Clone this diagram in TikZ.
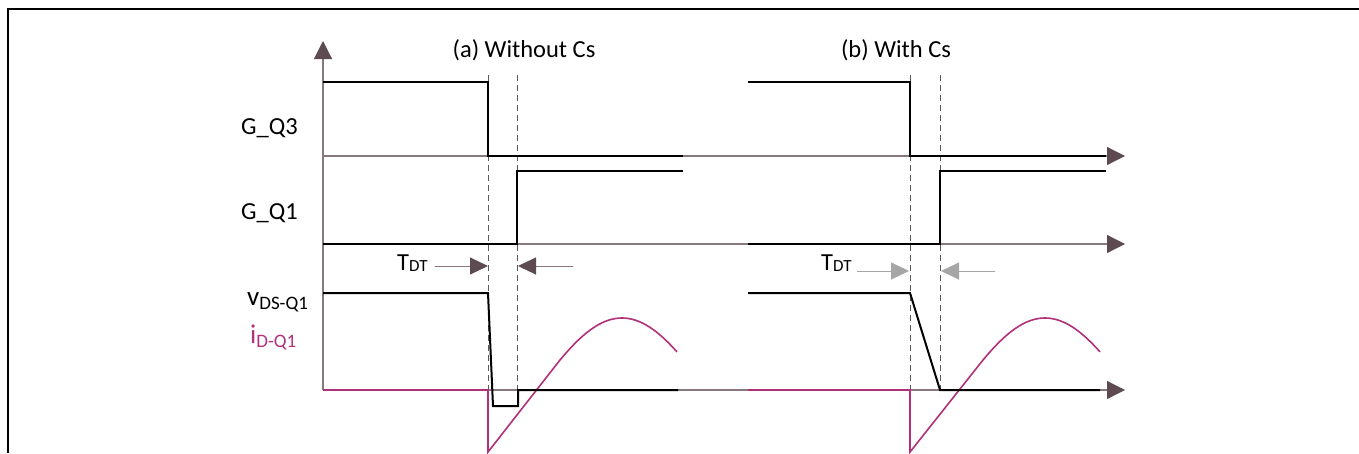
\documentclass[tikz,border=0pt]{standalone}
\usepackage{fontspec}
\setmainfont{Carlito}
\usetikzlibrary{arrows.meta}
\definecolor{axisc}{HTML}{8A7880}
\definecolor{tipc}{HTML}{5E4B52}
\definecolor{berry}{HTML}{B0307A}
\definecolor{lgrey}{HTML}{A6A6A6}
\definecolor{dashc}{HTML}{5A5A5A}
\tikzset{
  axisline/.style={draw=axisc, line width=1.2pt, -{Triangle[length=18pt,width=18pt,color=tipc]}},
  sig/.style={draw=black, line width=2pt, line join=miter},
  cur/.style={draw=berry, line width=1.6pt},
  guide/.style={draw=dashc, line width=0.8pt, dash pattern=on 6pt off 4pt},
  tdtdark/.style={draw=axisc, line width=1pt, -{Triangle[length=18pt,width=17pt,color=tipc]}},
  tdtlight/.style={draw=lgrey, line width=1pt, -{Triangle[length=18pt,width=17pt,color=lgrey]}},
  lbl/.style={inner sep=0pt, font=\fontsize{24.5}{28}\selectfont},
}
\newcommand{\subsz}{\fontsize{19}{20}\selectfont}
\begin{document}
\begin{tikzpicture}[x=1pt,y=-1pt]
\useasboundingbox (0,0) rectangle (1359,453);
% frame
\draw[line width=2.5pt] (8,453) -- (8,9) -- (1359,9);
% axes
\coordinate (o) at (323,390);
\coordinate (ytop) at (323,41);
\draw[axisline] (o) -- (ytop);
\coordinate (a3s) at (323,156); \coordinate (a3e) at (1125,156);
\coordinate (a1s) at (323,244); \coordinate (a1e) at (1125,244);
\coordinate (avs) at (323,390); \coordinate (ave) at (1125,390);
\draw[axisline] (a3s) -- (a3e);
\draw[axisline] (a1s) -- (a1e);
\draw[axisline] (avs) -- (ave);
% titles
\node[lbl] (ta) at (524,50) {(a) Without Cs};
\node[lbl] (tb) at (896,50) {(b) With Cs};
% labels
\node[lbl, anchor=east] (g3) at (298,128) {G\_Q3};
\node[lbl, anchor=east] (g1) at (298,213) {G\_Q1};
\node[inner sep=0pt, anchor=base west, font=\fontsize{27}{28}\selectfont] (vds) at (247,305) {v\raisebox{-4pt}{\subsz DS-Q1}};
\node[inner sep=0pt, anchor=base west, text=berry, font=\fontsize{27}{28}\selectfont] (id) at (250,343) {i\raisebox{-4pt}{\subsz D-Q1}};
% dashed guides
\foreach \x/\n in {488/da, 517/db, 910/dc, 940/dd}{
  \coordinate (\n t) at (\x,75); \coordinate (\n b) at (\x,395);
  \draw[guide] (\n t) -- (\n b);
}
% (a) signals
\draw[sig] (323,82) -- (488,82) -- (488,156) -- (683,156);
\draw[sig] (323,244) -- (517,244) -- (517,171) -- (683,171);
\draw[cur] (323,390) -- (488,390) -- (488,452) -- (560,360)
  -- plot[variable=\t, domain=0:1, samples=40, smooth] ({560+117*\t}, {390 - 72*sin(24.6+117*\t*1.0551)});
\draw[sig] (323,293) -- (488,293) -- (493,406) -- (518,406) -- (518,390) -- (678,390);
% (b) signals
\draw[sig] (748,82) -- (910,82) -- (910,156) -- (1106,156);
\draw[sig] (748,244) -- (940,244) -- (940,171) -- (1106,171);
\draw[cur] (748,390) -- (910,390) -- (910,452) -- (983,360)
  -- plot[variable=\t, domain=0:1, samples=40, smooth] ({983+117*\t}, {390 - 72*sin(24.6+117*\t*1.0551)});
\draw[sig] (748,293) -- (910,293) -- (940,390) -- (1100,390);
% T_DT markers (a)
\node[inner sep=0pt, anchor=base west, font=\fontsize{24.5}{28}\selectfont] (tdta) at (397,270) {T\raisebox{-1pt}{\fontsize{17}{18}\selectfont DT}};
\coordinate (ra) at (435,266); \coordinate (rat) at (488,266);
\coordinate (la) at (573,266); \coordinate (lat) at (518,266);
\draw[tdtdark] (ra) -- (rat);
\draw[tdtdark] (la) -- (lat);
% T_DT markers (b)
\node[inner sep=0pt, anchor=base west, font=\fontsize{24.5}{28}\selectfont] (tdtb) at (821,270) {T\raisebox{-1pt}{\fontsize{17}{18}\selectfont DT}};
\coordinate (rb) at (857,271); \coordinate (rbt) at (909,271);
\coordinate (lb) at (995,271); \coordinate (lbt) at (941,271);
\draw[tdtlight] (rb) -- (rbt);
\draw[tdtlight] (lb) -- (lbt);
\end{tikzpicture}
\end{document}
